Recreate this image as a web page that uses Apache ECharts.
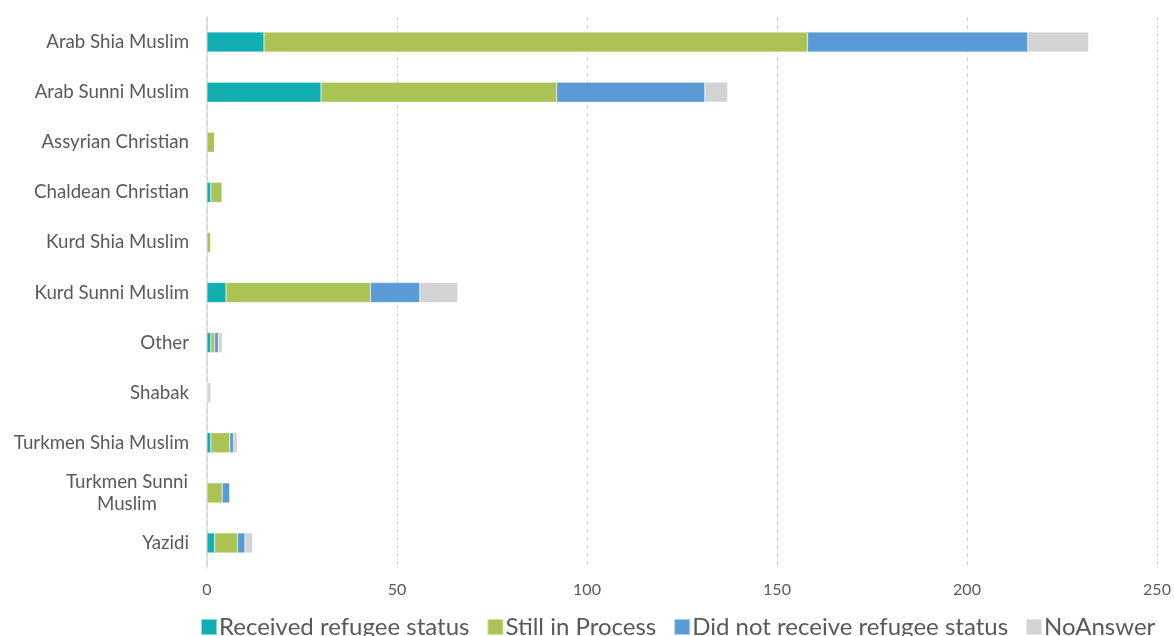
<!DOCTYPE html>
<html>
<head>
<meta charset="utf-8">
<script src="https://cdn.jsdelivr.net/npm/echarts@6/dist/echarts.min.js"></script>
<style>
  html, body { margin: 0; padding: 0; background: #fff; }
  #chart { width: 1174px; height: 636px; }
</style>
</head>
<body>
<div id="chart"></div>
<script>
// categories top to bottom
const categories = [
  "Arab Shia Muslim",
  "Arab Sunni Muslim",
  "Assyrian Christian",
  "Chaldean Christian",
  "Kurd Shia Muslim",
  "Kurd Sunni Muslim",
  "Other",
  "Shabak",
  "Turkmen Shia Muslim",
  "Turkmen Sunni Muslim",
  "Yazidi"
];
const received = [15, 30, 0, 1, 0, 5, 1, 0, 1, 0, 2];
const inProcess = [143, 62, 2, 3, 1, 38, 1, 0, 5, 4, 6];
const notReceived = [58, 39, 0, 0, 0, 13, 1, 0, 1, 2, 2];
const noAnswer = [16, 6, 0, 0, 0, 10, 1, 1, 1, 0, 2];
const xTicks = [0, 50, 100, 150, 200, 250];

const chart = echarts.init(document.getElementById("chart"));

function mkSeries(name, data, color) {
  return {
    name: name,
    type: "bar",
    stack: "total",
    data: data,
    barWidth: 20,
    itemStyle: { color: color, borderColor: "rgba(255,255,255,0.5)", borderWidth: 0.5 },
  };
}

const option = {
  animation: false,
  textStyle: { fontFamily: "Lato" },
  legend: {
    bottom: -8,
    left: 195,
    itemWidth: 16,
    itemHeight: 16,
    itemGap: 17,
    icon: "rect",
    textStyle: { color: "#595959", fontSize: 24, padding: [0, 0, 0, -3] },
    data: ["Received refugee status", "Still in Process", "Did not receive refugee status", "NoAnswer"],
  },
  grid: {
    left: 207,
    right: 17,
    top: 17,
    bottom: 68,
  },
  xAxis: {
    type: "value",
    min: xTicks[0],
    max: xTicks[xTicks.length - 1],
    interval: 50,
    axisLine: { show: false },
    axisTick: { show: false },
    axisLabel: { color: "#595959", fontSize: 16, margin: 14 },
    splitLine: {
      show: true,
      lineStyle: { color: "#d0d0d0", type: [4, 4], width: 1 },
    },
  },
  yAxis: {
    type: "category",
    inverse: true,
    data: categories,
    axisLine: { show: true, lineStyle: { color: "#d9d9d9", width: 1.5 } },
    axisTick: { show: false },
    axisLabel: {
      color: "#595959",
      fontSize: 18.7,
      margin: 18,
      formatter: function (v) {
        if (v === "Turkmen Sunni Muslim") return "{c|Turkmen Sunni}\n{c|Muslim}";
        return v;
      },
      rich: {
        c: { width: 124, align: "center", fontSize: 18.7, color: "#595959", lineHeight: 22 },
      },
    },
  },
  series: [
    mkSeries("Received refugee status", received, "#12AFB2"),
    mkSeries("Still in Process", inProcess, "#ABC355"),
    mkSeries("Did not receive refugee status", notReceived, "#5B9BD5"),
    mkSeries("NoAnswer", noAnswer, "#D3D3D3"),
  ],
};
chart.setOption(option);
</script>
</body>
</html>
